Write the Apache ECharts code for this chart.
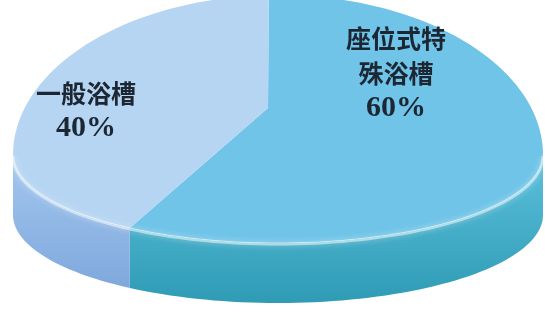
<!DOCTYPE html>
<html lang="zh-CN">
<head>
<meta charset="utf-8">
<title>浴槽比例</title>
<script src="https://cdn.jsdelivr.net/npm/echarts@6/dist/echarts.min.js"></script>
<style>
    html, body { margin: 0; padding: 0; background: #fff; }
    #main { width: 545px; height: 316px; }
</style>
</head>
<body>
<div id="main"></div>
<script>
// 数据
var categories = ['座位式特殊浴槽', '一般浴槽'];
var values = [60, 40];
var lineChars = [4, 4];   // 标签每行字数

// 样式 / 布局
var topColors = ['#6fc4e8', '#b5d5f2'];
var sideColors = [['#5cc0dc', '#2f9bb5'], ['#a3c7ee', '#7fa8dc']];
var labelPos = [[396, 73], [86, 111]];
var geo = { cx: 278, cy: 155, rx: 265, ryUp: 160, ryDown: 88, apexX: 268, apexY: 108, depth: 60, start: -2 };

function pt(deg, dy) {
    var r = deg * Math.PI / 180;
    var c = Math.cos(r);
    return [geo.cx + geo.rx * Math.sin(r), geo.cy - (c > 0 ? geo.ryUp : geo.ryDown) * c + (dy || 0)];
}

function arc(a, b, dy) {
    var pts = [];
    var n = Math.max(2, Math.ceil(Math.abs(b - a) / 2));
    for (var i = 0; i <= n; i++) pts.push(pt(a + (b - a) * i / n, dy));
    return pts;
}

function wrap(name, n) {
    var out = [];
    for (var i = 0; i < name.length; i += n) out.push('{cn|' + name.slice(i, i + n) + '}');
    return out.join('\n');
}

var total = values.reduce(function (s, v) { return s + v; }, 0);

var myChart = echarts.init(document.getElementById('main'));

var option = {
    animation: false,
    series: [{
        type: 'custom',
        coordinateSystem: 'none',
        data: values.map(function (v, i) { return { name: categories[i], value: v }; }),
        renderItem: function (params, api) {
            var i = params.dataIndex;
            var before = 0;
            for (var k = 0; k < i; k++) before += values[k];
            var a = geo.start + 360 * before / total;
            var b = a + 360 * api.value(0) / total;
            var children = [];

            // 侧面（只画前半圈）
            var s = Math.max(a, 90), e = Math.min(b, 270);
            if (e > s) {
                var top = arc(s, e, 0);
                var bot = arc(s, e, geo.depth).reverse();
                children.push({
                    type: 'polygon',
                    shape: { points: top.concat(bot) },
                    style: {
                        fill: new echarts.graphic.LinearGradient(0, 0, 0, 1, [
                            { offset: 0, color: sideColors[i][0] },
                            { offset: 1, color: sideColors[i][1] }
                        ])
                    }
                });
            }

            // 顶面
            children.push({
                type: 'polygon',
                shape: { points: [[geo.apexX, geo.apexY]].concat(arc(a, b, 0)) },
                style: { fill: topColors[i] }
            });

            // 边缘高光
            if (e > s) {
                children.push({
                    type: 'polyline',
                    shape: { points: arc(s, e, 1) },
                    style: {
                        stroke: 'rgba(255,255,255,0.5)', lineWidth: 3, fill: null,
                        shadowBlur: 6, shadowColor: 'rgba(255,255,255,0.9)'
                    }
                });
            }

            // 标签
            children.push({
                type: 'text',
                style: {
                    text: wrap(categories[i], lineChars[i]) + '\n{num|' + api.value(0) + '%}',
                    x: labelPos[i][0],
                    y: labelPos[i][1],
                    align: 'center',
                    verticalAlign: 'middle',
                    fill: '#1c2733',
                    rich: {
                        cn: {
                            fontSize: 25, lineHeight: 35, fontWeight: 'bold',
                            fontFamily: "'Noto Sans CJK SC'", fill: '#1c2733'
                        },
                        num: {
                            fontSize: 30, lineHeight: 35, fontWeight: 'bold',
                            fontFamily: "'Liberation Serif'", fill: '#1c2733'
                        }
                    }
                }
            });

            return { type: 'group', children: children };
        }
    }]
};

myChart.setOption(option);
</script>
</body>
</html>
